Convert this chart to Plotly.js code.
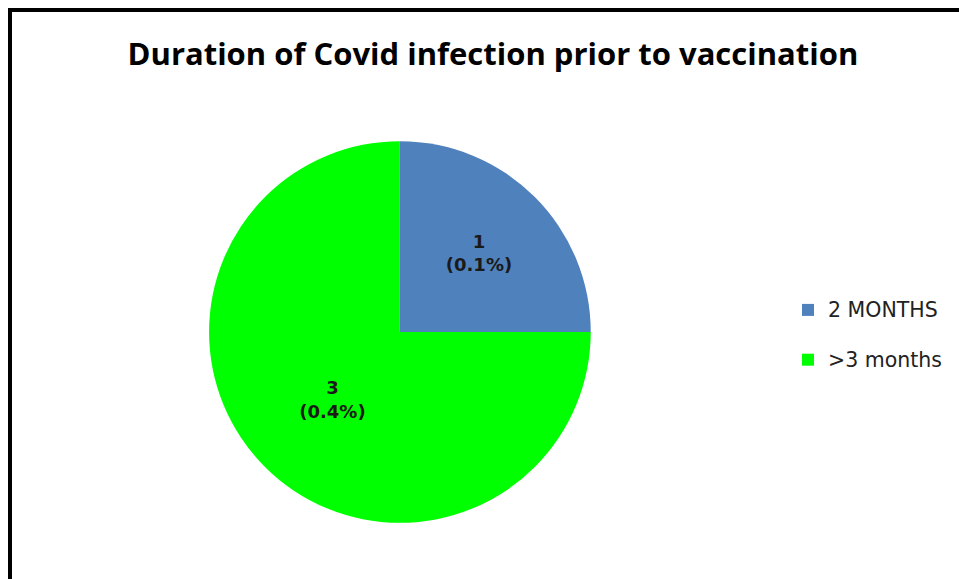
<!DOCTYPE html>
<html>
<head>
<meta charset="utf-8">
<script src="https://cdn.plot.ly/plotly-3.0.1.min.js"></script>
<style>
  html, body { margin: 0; padding: 0; background: #fff; }
  #wrap { position: relative; width: 959px; height: 579px; overflow: hidden; }
  #chart { position: absolute; left: 0; top: 0; width: 959px; height: 579px; }
  #frame { position: absolute; left: 8px; top: 8px; width: 1000px; height: 700px;
           border-left: 4px solid #000; border-top: 4px solid #000; pointer-events: none; }
</style>
</head>
<body>
<div id="wrap">
  <div id="chart"></div>
  <div id="frame"></div>
</div>
<script>
const categories = ['2 MONTHS', '>3 months'];
const counts = [1, 3];
const percentLabels = ['0.1%', '0.4%'];
const sliceColors = ['#4F81BD', '#00FF00'];

function esc(s) { return s.replace(/&/g, '&amp;').replace(/</g, '&lt;').replace(/>/g, '&gt;'); }
// legend entries: larger base font (for item spacing), visible text at 20.5px
const legendLabels = categories.map(c =>
  '<span style="font-size:20.5px;baseline-shift:7px">' + esc(c) + '</span>');

const trace = {
  type: 'pie',
  labels: legendLabels,
  values: counts,
  text: percentLabels,
  texttemplate: '%{value}<br>(%{text})',
  textposition: 'inside',
  insidetextorientation: 'horizontal',
  textfont: { family: '"DejaVu Sans", sans-serif', size: 18, color: '#1a1a1a', weight: 'bold' },
  hoverinfo: 'label+value',
  sort: false,
  direction: 'clockwise',
  rotation: 0,
  marker: { colors: sliceColors, line: { width: 0 } },
  domain: { x: [0.218, 0.616], y: [0.0967, 0.7565] }
};

const layout = {
  width: 959,
  height: 579,
  margin: { l: 0, r: 0, t: 0, b: 0 },
  paper_bgcolor: '#ffffff',
  plot_bgcolor: '#ffffff',
  title: {
    text: '<b>Duration of Covid infection prior to vaccination</b>',
    font: { family: '"Open Sans", sans-serif', size: 31, color: '#000000' },
    x: 0.514, xanchor: 'center',
    y: 0.906, yanchor: 'middle'
  },
  showlegend: true,
  legend: {
    x: 0.8217, xanchor: 'left',
    y: 0.5164, yanchor: 'top',
    font: { family: '"DejaVu Sans", Verdana, sans-serif', size: 36, color: '#222222' },
    bgcolor: 'rgba(0,0,0,0)',
    itemwidth: 30
  }
};

Plotly.newPlot('chart', [trace], layout, { displayModeBar: false, staticPlot: true });
</script>
</body>
</html>
